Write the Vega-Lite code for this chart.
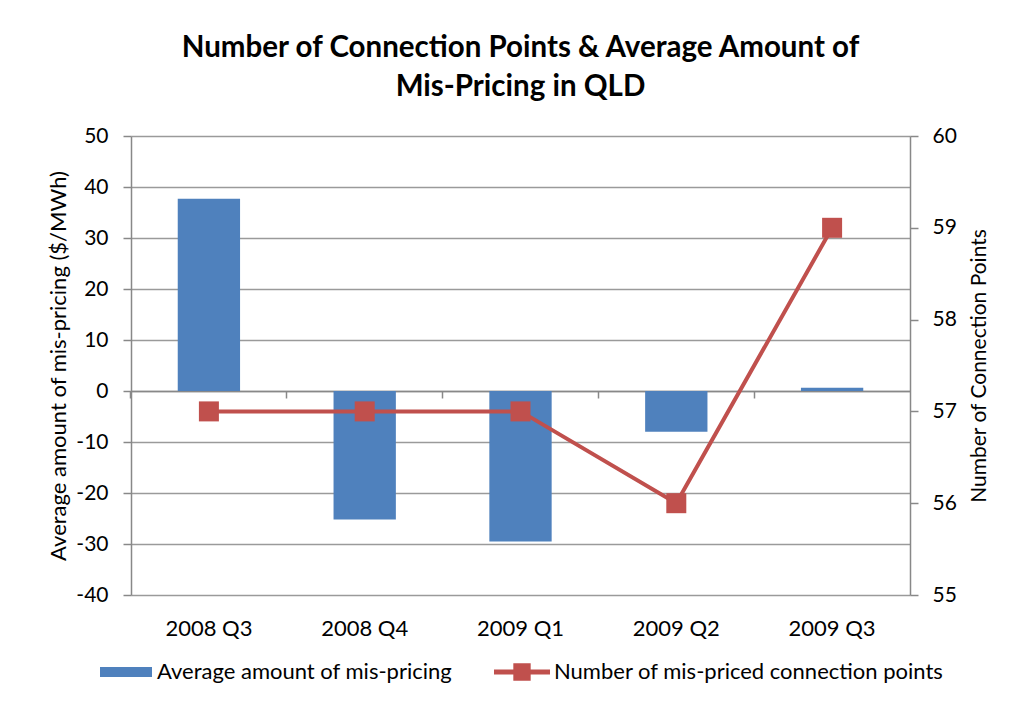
{
  "$schema": "https://vega.github.io/schema/vega-lite/v6.json",
  "width": 779,
  "height": 459,
  "autosize": "none",
  "padding": {"left": 131, "top": 136, "right": 106, "bottom": 125},
  "background": "white",
  "config": {
    "font": "Lato",
    "view": {"stroke": null},
    "axis": {
      "labelColor": "black",
      "titleColor": "black",
      "labelFontSize": 21,
      "titleFontSize": 21,
      "titleFontWeight": "normal",
      "domainColor": "#888888",
      "tickColor": "#888888",
      "gridColor": "#9a9a9a",
      "domainWidth": 1.5,
      "tickWidth": 1.5,
      "gridWidth": 1.5
    },
    "legend": {"labelFontSize": 22, "labelColor": "black", "padding": 0, "labelLimit": 0}
  },
  "title": {
    "text": ["Number of Connection Points & Average Amount of", "Mis-Pricing in QLD"],
    "fontSize": 29.5,
    "fontWeight": "bold",
    "color": "black",
    "anchor": "middle",
    "offset": 23,
    "lineHeight": 39
  },
  "data": {
    "values": [
      {"period": "2008 Q3", "avg": 37.7, "count": 57},
      {"period": "2008 Q4", "avg": -25.2, "count": 57},
      {"period": "2009 Q1", "avg": -29.5, "count": 57},
      {"period": "2009 Q2", "avg": -8.0, "count": 56},
      {"period": "2009 Q3", "avg": 0.65, "count": 59}
    ]
  },
  "layer": [
    {
      "mark": {"type": "bar", "color": "#4F81BD"},
      "encoding": {
        "x": {
          "field": "period", "type": "nominal", "sort": null,
          "scale": {"paddingInner": 0.6, "paddingOuter": 0.3},
          "axis": {"orient": "bottom", "title": null, "labelAngle": 0, "labelFontSize": 22, "ticks": false, "domain": false, "labelPadding": 23}
        },
        "y": {
          "field": "avg", "type": "quantitative",
          "scale": {"domain": [-40, 50], "nice": false},
          "axis": {
            "title": "Average amount of mis-pricing ($/MWh)",
            "titleFontSize": 22,
            "values": [-40, -30, -20, -10, 0, 10, 20, 30, 40, 50],
            "labelExpr": "toString(datum.value)",
            "grid": true, "tickSize": 8, "labelPadding": 15, "titlePadding": 5
          }
        },
        "fill": {
          "datum": "Average amount of mis-pricing",
          "scale": {"range": ["#4F81BD"]},
          "legend": {
            "title": null, "orient": "none", "legendX": -31, "legendY": 510,
            "symbolType": "M-1,-0.19H1V0.19H-1Z", "symbolSize": 2704,
            "symbolStrokeWidth": 0, "symbolOpacity": 1, "labelOffset": 5
          }
        }
      }
    },
    {
      "mark": {"type": "line", "strokeWidth": 4},
      "encoding": {
        "x": {
          "field": "period", "type": "nominal", "sort": null,
          "axis": {"orient": "bottom", "title": null, "labels": false, "ticks": true, "tickSize": 7, "bandPosition": -0.75, "domain": true, "offset": -204, "grid": false}
        },
        "y": {
          "field": "count", "type": "quantitative",
          "scale": {"domain": [55, 60], "nice": false, "zero": false},
          "axis": {
            "orient": "right", "title": "Number of Connection Points",
            "titleAngle": 270, "titleBaseline": "top",
            "values": [55, 56, 57, 58, 59, 60], "grid": false,
            "tickSize": 8, "labelPadding": 14, "titlePadding": 12
          }
        },
        "stroke": {
          "datum": "Number of mis-priced connection points",
          "scale": {"range": ["#C0504D"]},
          "legend": {
            "title": null, "orient": "none", "legendX": 363, "legendY": 508,
            "symbolType": "M-1,-0.09H-0.31V-0.31H0.31V-0.09H1V0.09H0.31V0.31H-0.31V0.09H-1Z",
            "symbolSize": 3136, "symbolFillColor": "#C0504D", "symbolStrokeWidth": 0,
            "labelOffset": 4
          }
        }
      }
    },
    {
      "mark": {"type": "point", "shape": "square", "size": 400, "filled": true, "color": "#C0504D", "opacity": 1},
      "encoding": {
        "x": {"field": "period", "type": "nominal", "sort": null, "axis": null},
        "y": {
          "field": "count", "type": "quantitative",
          "scale": {"domain": [55, 60], "nice": false, "zero": false},
          "axis": null
        }
      }
    }
  ],
  "resolve": {"scale": {"y": "independent"}, "axis": {"x": "independent"}}
}
